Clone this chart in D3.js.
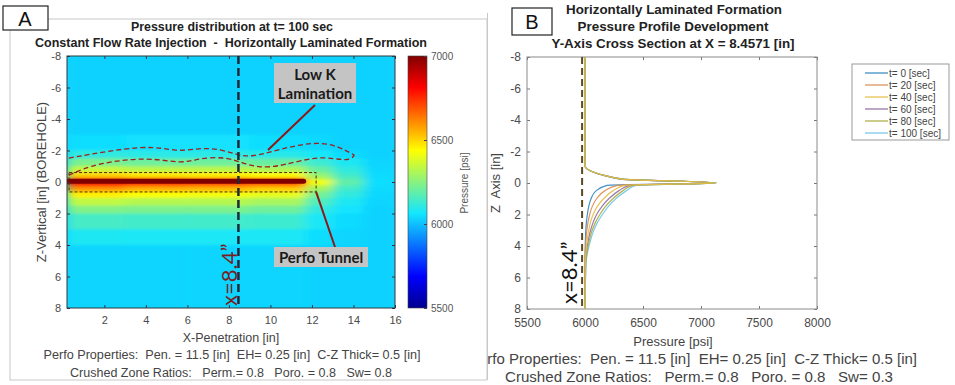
<!DOCTYPE html>
<html lang="en">
<head>
<meta charset="UTF-8" />
<script src="https://cdn.jsdelivr.net/npm/d3@7"></script>
<style>
  * { margin: 0; padding: 0; }
  body { background: #fff; }
  svg { display: block; font-family: 'Liberation Sans', Arial, sans-serif; }
  text { white-space: pre; }
</style>
</head>
<body>
<div id="container"></div>
<script>
  // ---------- panel A : pressure field (psi) ----------
  const xEdges = [0.2, 3, 6, 9, 11.7, 13, 14.5, 16];
  const zEdges = [-8, -3, -2, -1.5, -1, -0.6, -0.3, -0.12, 0.12, 0.3, 0.6, 1, 1.5, 2, 3, 4, 8];
  const pressureGrid = [
    [6030, 6030, 6030, 6030, 6030, 6030, 6030],
    [6050, 6055, 6055, 6050, 6040, 6030, 6030],
    [6110, 6100, 6100, 6095, 6070, 6045, 6030],
    [6230, 6210, 6210, 6200, 6130, 6080, 6035],
    [6350, 6330, 6330, 6310, 6200, 6110, 6040],
    [6500, 6470, 6460, 6440, 6270, 6140, 6045],
    [6660, 6620, 6600, 6580, 6340, 6170, 6050],
    [6840, 6790, 6760, 6740, 6430, 6190, 6050],
    [6720, 6670, 6650, 6620, 6360, 6170, 6050],
    [6590, 6550, 6540, 6510, 6290, 6140, 6045],
    [6460, 6430, 6420, 6400, 6220, 6110, 6040],
    [6340, 6320, 6320, 6300, 6160, 6080, 6035],
    [6240, 6230, 6230, 6210, 6110, 6060, 6030],
    [6145, 6140, 6140, 6130, 6075, 6045, 6030],
    [6080, 6075, 6075, 6075, 6050, 6035, 6030],
    [6035, 6035, 6035, 6035, 6030, 6030, 6030],
  ];
  const basePressure = 6030;
  const tunnel = [[0.2, -0.05], [11.6, -0.05]];
  const perfoBox = [0.3, 12.2, -0.6, 0.63];
  const lamTop = [[0.29, -1.52], [4.09, -2.41], [5.48, -1.9], [6.59, -2.16], [7.55, -2.1], [8.41, -1.71],
    [9.13, -1.59], [10.29, -2.03], [12.6, -2.73], [14.04, -1.71]];
  const lamBottom = [[0.29, -0.44], [1.63, -1.21], [4.18, -1.59], [5.72, -1.14], [6.59, -1.52], [7.88, -1.59],
    [8.65, -1.21], [9.47, -0.89], [10.58, -1.02], [12.36, -1.71], [13.8, -1.27], [14.04, -1.71]];
  const sectionX = 8.4571;
  const xTicksA = [2, 4, 6, 8, 10, 12, 14, 16];
  const zTicks = [-8, -6, -4, -2, 0, 2, 4, 6, 8];
  const cbTicks = [5500, 6000, 6500, 7000];

  // ---------- panel B : profiles ----------
  const times = [0, 20, 40, 60, 80, 100];
  const zProfile = [-8, -1.1, -0.25, 0, 0.15, 0.5, 1, 1.5, 2, 2.5, 3, 4, 5, 8];
  const profiles = [
    [6000, 6000, 6300, 7100, 6190, 6095, 6052, 6032, 6020, 6012, 6007, 6002, 6000, 6000],
    [6000, 6000, 6308, 7110, 6280, 6170, 6100, 6062, 6040, 6026, 6016, 6005, 6001, 6000],
    [6000, 6000, 6315, 7120, 6340, 6240, 6160, 6105, 6070, 6047, 6032, 6013, 6003, 6000],
    [6000, 6000, 6320, 7125, 6385, 6290, 6205, 6145, 6100, 6070, 6048, 6020, 6005, 6000],
    [6000, 6000, 6325, 7135, 6415, 6325, 6240, 6175, 6128, 6090, 6062, 6027, 6008, 6000],
    [6000, 6000, 6330, 7130, 6440, 6355, 6265, 6200, 6150, 6108, 6076, 6035, 6010, 6000],
  ];
  const markerP = 5975;
  const xTicksB = [5500, 6000, 6500, 7000, 7500, 8000];
  const seriesColors = ['#2f86c0', '#dc8a55', '#e6bd45', '#8f6aa0', '#a8a83c', '#70c4ea'];
  const drawOrder = [0, 1, 3, 5, 4, 2];

  const jetStops = [[0, '#00008f'], [0.125, '#0000ff'], [0.375, '#12e6ff'], [0.625, '#ffff00'], [0.875, '#ff0000'], [1, '#800000']];
  const jet = d3.scaleLinear()
    .domain(jetStops.map((d) => 5500 + d[0] * 1500))
    .range(jetStops.map((d) => d[1]))
    .clamp(true);

  const plain = (d) => String(d);

  const width = 955, height = 385;
  const svg = d3.select('#container').append('svg').attr('width', width).attr('height', height);
  const defs = svg.append('defs');

  function txt(g, s, x, y, o = {}) {
    const t = g.append('text').text(s).attr('x', x).attr('y', y)
      .attr('font-size', o.size || 12)
      .attr('text-anchor', o.anchor || 'middle')
      .attr('fill', o.fill || '#222')
      .attr('font-weight', o.bold ? 'bold' : 'normal');
    if (o.family) t.attr('font-family', o.family);
    if (o.len) t.attr('textLength', o.len).attr('lengthAdjust', 'spacingAndGlyphs');
    if (o.rot) t.attr('transform', `rotate(${o.rot},${x},${y})`);
    return t;
  }

  // ================= PANEL A =================
  const A = svg.append('g');
  A.append('rect').attr('x', 10).attr('y', 19).attr('width', 477).attr('height', 361)
    .attr('fill', '#fff').attr('stroke', '#c8c8c8');
  A.append('rect').attr('x', 3).attr('y', 6).attr('width', 45).attr('height', 24)
    .attr('fill', '#fff').attr('stroke', '#222').attr('stroke-width', 1.2);
  txt(A, 'A', 25, 26, { size: 20, fill: '#111' });

  const xA = d3.scaleLinear([0.2, 16], [67, 395]);
  const yA = d3.scaleLinear([-8, 8], [56, 308]);

  txt(A, 'Pressure distribution at t= 100 sec', 232, 31, { size: 12.5, bold: true, len: 202 });
  txt(A, 'Constant Flow Rate Injection  -  Horizontally Laminated Formation', 231, 47, { size: 12.5, bold: true, len: 392 });

  defs.append('clipPath').attr('id', 'clipA').append('rect')
    .attr('x', xA(0.2)).attr('y', yA(-8)).attr('width', xA(16) - xA(0.2)).attr('height', yA(8) - yA(-8));
  defs.append('filter').attr('id', 'smooth')
    .attr('x', '-5%').attr('y', '-5%').attr('width', '110%').attr('height', '110%')
    .append('feGaussianBlur').attr('stdDeviation', '6 1.6');

  const field = A.append('g').attr('clip-path', 'url(#clipA)');
  field.append('rect').attr('x', xA(0.2)).attr('y', yA(-8))
    .attr('width', xA(16) - xA(0.2)).attr('height', yA(8) - yA(-8)).attr('fill', jet(basePressure));
  const cells = [];
  pressureGrid.forEach((row, i) => row.forEach((p, j) => cells.push({ i, j, p })));
  field.append('g').attr('filter', 'url(#smooth)')
    .selectAll('rect').data(cells).join('rect')
    .attr('x', (d) => xA(xEdges[d.j]))
    .attr('y', (d) => yA(zEdges[d.i]))
    .attr('width', (d) => xA(xEdges[d.j + 1]) - xA(xEdges[d.j]) + 0.5)
    .attr('height', (d) => yA(zEdges[d.i + 1]) - yA(zEdges[d.i]) + 0.5)
    .attr('fill', (d) => jet(d.p));

  // tunnel
  field.append('path').datum(tunnel)
    .attr('d', d3.line().x((d) => xA(d[0])).y((d) => yA(d[1])))
    .attr('stroke', '#800000').attr('stroke-width', 5).attr('stroke-linecap', 'round');
  // perfo box
  field.append('rect')
    .attr('x', xA(perfoBox[0])).attr('y', yA(perfoBox[2]))
    .attr('width', xA(perfoBox[1]) - xA(perfoBox[0])).attr('height', yA(perfoBox[3]) - yA(perfoBox[2]))
    .attr('fill', 'none').attr('stroke', '#5a2a0a').attr('stroke-width', 1).attr('stroke-dasharray', '3,2');
  // low-K lamination
  const lamLine = d3.line().x((d) => xA(d[0])).y((d) => yA(d[1])).curve(d3.curveBasis);
  [lamTop, lamBottom].forEach((pts) => {
    field.append('path').datum(pts).attr('d', lamLine)
      .attr('fill', 'none').attr('stroke', '#9b2020').attr('stroke-width', 1.3).attr('stroke-dasharray', '5,3');
  });

  // axes A
  const axA = A.append('g').attr('font-size', 11);
  const styleAxis = (g, col) => {
    g.selectAll('.domain').remove();
    g.selectAll('line').attr('stroke', col);
    g.selectAll('text').attr('fill', '#4a4a4a').attr('font-family', "'Liberation Sans', Arial, sans-serif");
  };
  axA.append('g').attr('transform', `translate(0,${yA(8)})`)
    .call(d3.axisBottom(xA).tickValues(xTicksA).tickSize(-3).tickPadding(8).tickFormat(plain))
    .call((g) => styleAxis(g, '#333'))
    .selectAll('text').attr('font-size', 11);
  axA.append('g').attr('transform', `translate(0,${yA(-8)})`)
    .call(d3.axisTop(xA).tickValues(xTicksA).tickSize(-3).tickFormat(''))
    .call((g) => styleAxis(g, '#333'));
  axA.append('g').attr('transform', `translate(${xA(0.2)},0)`)
    .call(d3.axisLeft(yA).tickValues(zTicks).tickSize(-3).tickPadding(6).tickFormat(plain))
    .call((g) => styleAxis(g, '#333'))
    .selectAll('text').attr('font-size', 11);
  axA.append('g').attr('transform', `translate(${xA(16)},0)`)
    .call(d3.axisRight(yA).tickValues(zTicks).tickSize(-3).tickFormat(''))
    .call((g) => styleAxis(g, '#333'));
  A.append('rect').attr('x', xA(0.2)).attr('y', yA(-8))
    .attr('width', xA(16) - xA(0.2)).attr('height', yA(8) - yA(-8))
    .attr('fill', 'none').attr('stroke', '#2a3a40').attr('stroke-width', 1);

  // section line
  A.append('line').attr('x1', xA(sectionX)).attr('x2', xA(sectionX)).attr('y1', yA(-8)).attr('y2', yA(8))
    .attr('stroke', '#1e2a3a').attr('stroke-width', 2.5).attr('stroke-dasharray', '8,4');
  txt(A, 'x=8.4\u201D', 237, 306, { size: 22, anchor: 'start', rot: -90, fill: '#7a1e1e', family: 'Lato, sans-serif' });

  // annotations
  A.append('line').attr('x1', 315).attr('y1', 105).attr('x2', 268).attr('y2', 150)
    .attr('stroke', '#8b1a1a').attr('stroke-width', 2);
  A.append('line').attr('x1', xA(perfoBox[1])).attr('y1', yA(perfoBox[3])).attr('x2', 335).attr('y2', 247)
    .attr('stroke', '#8b1a1a').attr('stroke-width', 2);
  A.append('rect').attr('x', 274).attr('y', 63).attr('width', 82).attr('height', 40).attr('fill', '#c4c4c4');
  txt(A, 'Low K', 315, 80, { size: 15, bold: true, fill: '#1a1a1a', family: 'Lato, sans-serif' });
  txt(A, 'Lamination', 315, 99, { size: 15, bold: true, fill: '#1a1a1a', family: 'Lato, sans-serif' });
  A.append('rect').attr('x', 274).attr('y', 247).attr('width', 94).attr('height', 20).attr('fill', '#c4c4c4');
  txt(A, 'Perfo Tunnel', 321, 263, { size: 15, bold: true, fill: '#1a1a1a', family: 'Lato, sans-serif' });

  // colorbar
  const cbY = d3.scaleLinear([5500, 7000], [308, 56]);
  const grad = defs.append('linearGradient').attr('id', 'jetGrad')
    .attr('x1', 0).attr('y1', 1).attr('x2', 0).attr('y2', 0);
  jetStops.forEach((s) => grad.append('stop').attr('offset', s[0]).attr('stop-color', s[1]));
  A.append('rect').attr('x', 408).attr('y', cbY(7000)).attr('width', 19).attr('height', cbY(5500) - cbY(7000))
    .attr('fill', 'url(#jetGrad)').attr('stroke', '#444').attr('stroke-width', 0.6);
  A.append('g').attr('transform', 'translate(427,0)')
    .call(d3.axisRight(cbY).tickValues(cbTicks).tickSize(-3).tickPadding(4).tickFormat(plain))
    .call((g) => styleAxis(g, '#444'))
    .selectAll('text').attr('font-size', 10).attr('fill', '#555');
  txt(A, 'Pressure [psi]', 468, 183, { size: 10, rot: -90, fill: '#555' });

  txt(A, 'Z-Vertical [in] (BOREHOLE)', 46, 182, { size: 13, rot: -90, fill: '#444' });
  txt(A, 'X-Penetration [in]', 231, 342, { size: 12.5, fill: '#444' });
  txt(A, 'Perfo Properties:  Pen. = 11.5 [in]  EH= 0.25 [in]  C-Z Thick= 0.5 [in]', 232, 359, { size: 12, fill: '#444', len: 377 });
  txt(A, 'Crushed Zone Ratios:   Perm.= 0.8   Poro. = 0.8   Sw= 0.8', 231, 377, { size: 12, fill: '#444', len: 322 });

  // ================= PANEL B =================
  defs.append('clipPath').attr('id', 'clipB').append('rect')
    .attr('x', 487).attr('y', 0).attr('width', 468).attr('height', 385);
  const B = svg.append('g').attr('clip-path', 'url(#clipB)');
  B.append('rect').attr('x', 487).attr('y', 0).attr('width', 468).attr('height', 385).attr('fill', '#fff');
  B.append('line').attr('x1', 487.5).attr('x2', 487.5).attr('y1', 13).attr('y2', 380).attr('stroke', '#c8c8c8');

  B.append('rect').attr('x', 512).attr('y', 8).attr('width', 40).attr('height', 27)
    .attr('fill', '#fff').attr('stroke', '#222').attr('stroke-width', 1.2);
  txt(B, 'B', 532, 29, { size: 20, fill: '#111' });

  txt(B, 'Horizontally Laminated Formation', 674, 14, { size: 13, bold: true, len: 216 });
  txt(B, 'Pressure Profile Development', 673, 31, { size: 13, bold: true, len: 191 });
  txt(B, 'Y-Axis Cross Section at X = 8.4571 [in]', 673, 48, { size: 13, bold: true, len: 243 });

  const xB = d3.scaleLinear([5500, 8000], [527, 817]);
  const yB = d3.scaleLinear([-8, 8], [57, 309]);

  B.append('g').attr('transform', `translate(0,${yB(8)})`)
    .call(d3.axisBottom(xB).tickValues(xTicksB).tickSize(-3).tickPadding(9).tickFormat(plain))
    .call((g) => styleAxis(g, '#777'))
    .selectAll('text').attr('font-size', 12);
  B.append('g').attr('transform', `translate(0,${yB(-8)})`)
    .call(d3.axisTop(xB).tickValues(xTicksB).tickSize(-3).tickFormat(''))
    .call((g) => styleAxis(g, '#777'));
  B.append('g').attr('transform', `translate(${xB(5500)},0)`)
    .call(d3.axisLeft(yB).tickValues(zTicks).tickSize(-3).tickPadding(6).tickFormat(plain))
    .call((g) => styleAxis(g, '#777'))
    .selectAll('text').attr('font-size', 12);
  B.append('g').attr('transform', `translate(${xB(8000)},0)`)
    .call(d3.axisRight(yB).tickValues(zTicks).tickSize(-3).tickFormat(''))
    .call((g) => styleAxis(g, '#777'));
  B.append('rect').attr('x', xB(5500)).attr('y', yB(-8))
    .attr('width', xB(8000) - xB(5500)).attr('height', yB(8) - yB(-8))
    .attr('fill', 'none').attr('stroke', '#8a8a8a').attr('stroke-width', 1);

  const profLine = d3.line().x((d) => xB(d[0])).y((d) => yB(d[1])).curve(d3.curveMonotoneY);
  B.append('g').selectAll('path').data(drawOrder).join('path')
    .attr('d', (k) => profLine(profiles[k].map((p, i) => [p, zProfile[i]])))
    .attr('fill', 'none')
    .attr('stroke', (k) => seriesColors[k])
    .attr('stroke-width', 1.2)
    .attr('opacity', 0.9);

  B.append('line').attr('x1', xB(markerP)).attr('x2', xB(markerP)).attr('y1', yB(-8)).attr('y2', yB(8))
    .attr('stroke', '#5a4a1e').attr('stroke-width', 2).attr('stroke-dasharray', '7,4');
  txt(B, 'x=8.4\u201D', 577, 304, { size: 22, anchor: 'start', rot: -90, fill: '#111', family: 'Lato, sans-serif' });

  // legend
  const lg = B.append('g').attr('transform', 'translate(852,64)');
  lg.append('rect').attr('width', 97).attr('height', 76).attr('fill', '#fff').attr('stroke', '#999');
  const item = lg.selectAll('g').data(times).join('g')
    .attr('transform', (d, i) => `translate(0,${9 + i * 12})`);
  item.append('line').attr('x1', 13).attr('x2', 36).attr('stroke', (d, i) => seriesColors[i]).attr('stroke-width', 1.2);
  item.append('text').attr('x', 37).attr('y', 3.5).attr('font-size', 10).attr('fill', '#444')
    .text((d) => `t= ${d} [sec]`);

  txt(B, 'Z  Axis [in]', 500, 183, { size: 13, rot: -90, fill: '#444' });
  txt(B, 'Pressure [psi]', 673, 346, { size: 13, fill: '#444' });
  txt(B, 'Perfo Properties:  Pen. = 11.5 [in]  EH= 0.25 [in]  C-Z Thick= 0.5 [in]', 917, 364, { size: 14, anchor: 'end', fill: '#444', len: 448 });
  txt(B, 'Crushed Zone Ratios:   Perm.= 0.8   Poro. = 0.8   Sw= 0.3', 505, 382, { size: 14, anchor: 'start', fill: '#444', len: 388 });
</script>
</body>
</html>
